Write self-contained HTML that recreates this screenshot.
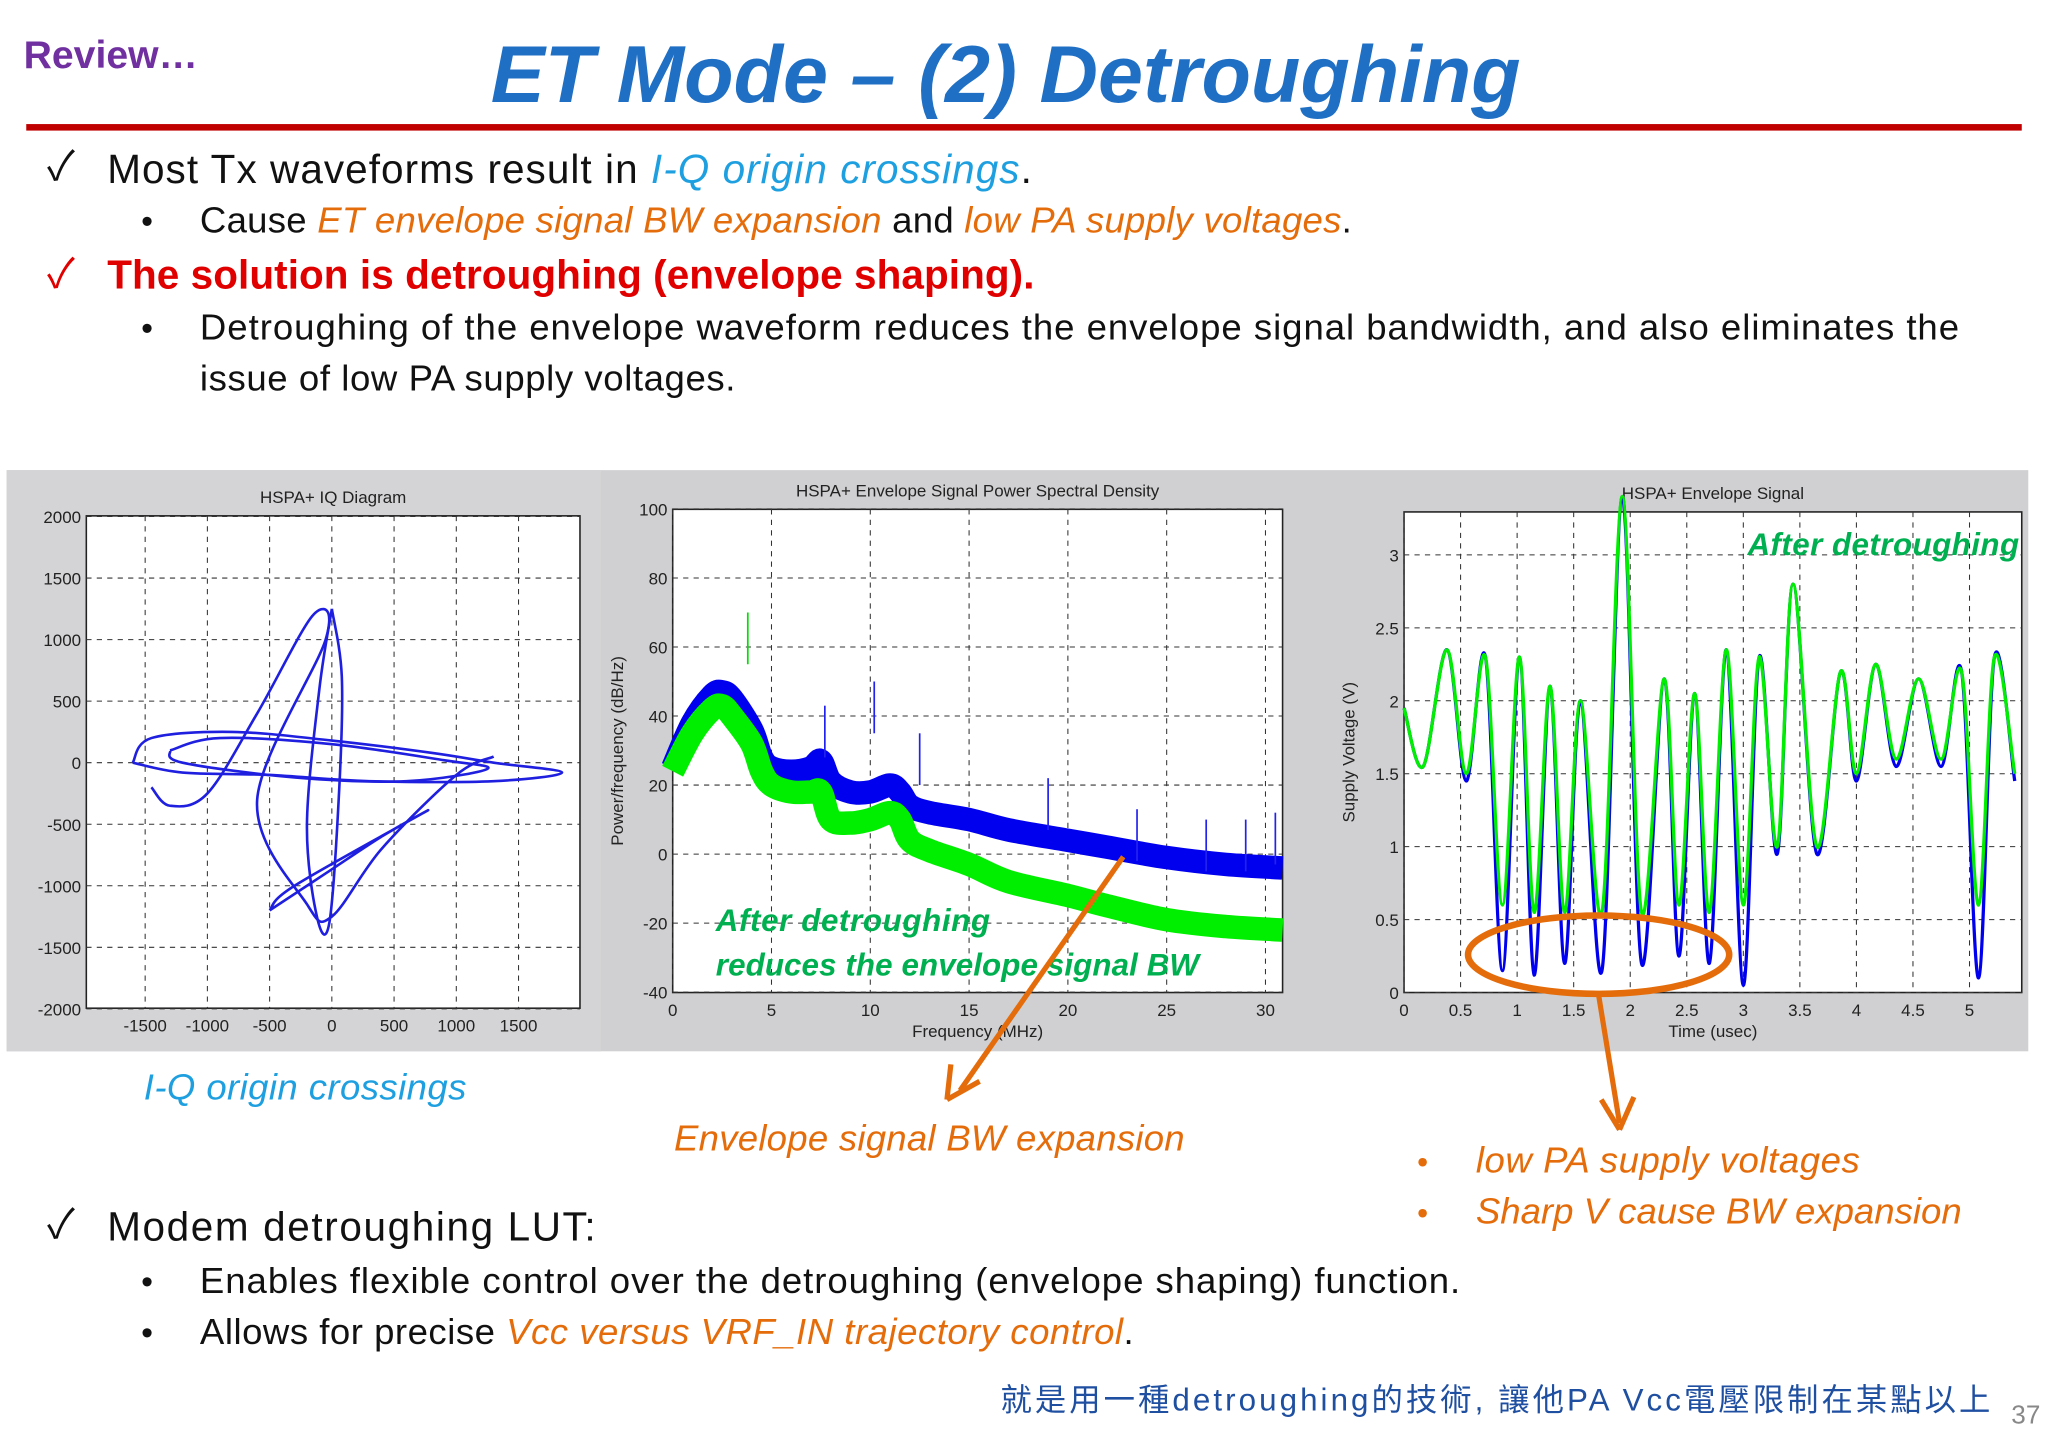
<!DOCTYPE html>
<html><head><meta charset="utf-8"><style>
html,body{margin:0;padding:0;background:#fff;}
svg{display:block;}
text{font-family:"Liberation Sans","Noto Sans CJK TC",sans-serif;}
</style></head><body>
<svg id="page" width="2048" height="1447" viewBox="0 0 1568 1108" xmlns="http://www.w3.org/2000/svg">
<rect width="1568" height="1108" fill="#fff"/>
<text x="18" y="52" font-size="30" font-weight="bold" fill="#7030a0">Review…</text>
<text x="770" y="78" font-size="62" font-weight="bold" font-style="italic" fill="#1f6fc5" text-anchor="middle">ET Mode – (2) Detroughing</text>
<rect x="20" y="95" width="1528" height="5" fill="#c00000"/>
<g font-size="31" fill="#111">
<text x="36" y="138">✓</text>
<text x="82" y="140" textLength="708">Most Tx waveforms result in <tspan fill="#1ea0e0" font-style="italic">I-Q origin crossings</tspan>.</text>
<text x="108" y="178" font-size="26">•</text>
<text x="153" y="178" font-size="28" textLength="882">Cause <tspan fill="#e46c0a" font-style="italic">ET envelope signal BW expansion</tspan> and <tspan fill="#e46c0a" font-style="italic">low PA supply voltages</tspan>.</text>
<text x="36" y="220" fill="#e00000">✓</text>
<text x="82" y="221" fill="#e00000" font-weight="bold" textLength="710">The solution is detroughing (envelope shaping).</text>
<text x="108" y="260" font-size="26">•</text>
<text x="153" y="260" font-size="28" textLength="1347">Detroughing of the envelope waveform reduces the envelope signal bandwidth, and also eliminates the</text>
<text x="153" y="299" font-size="28" textLength="410">issue of low PA supply voltages.</text>
</g>
<rect x="5" y="360" width="1548" height="445" fill="#d0d0d2"/>
<g id="iq"></g>
<g id="psd"></g>
<g id="env"></g>
<g>
<text x="548" y="713" font-size="24" font-weight="bold" font-style="italic" fill="#00b050" textLength="210">After detroughing</text>
<text x="548" y="747" font-size="24" font-weight="bold" font-style="italic" fill="#00b050" textLength="370">reduces the envelope signal BW</text>
<text x="1338" y="425" font-size="24" font-weight="bold" font-style="italic" fill="#00b050" textLength="208">After detroughing</text>
<line x1="860" y1="656" x2="735" y2="835" stroke="#e46c0a" stroke-width="4"/>
<path d="M725 842 L728 815 M725 842 L750 828" stroke="#e46c0a" stroke-width="4" fill="none"/>
<ellipse cx="1224" cy="731" rx="100" ry="30" fill="none" stroke="#e46c0a" stroke-width="5"/>
<line x1="1224" y1="762" x2="1240" y2="860" stroke="#e46c0a" stroke-width="4"/>
<path d="M1240 865 L1226 842 M1240 865 L1251 840" stroke="#e46c0a" stroke-width="4" fill="none"/>
<text x="110" y="842" font-size="28" font-style="italic" fill="#1ea0e0" textLength="247">I-Q origin crossings</text>
<text x="516" y="881" font-size="28" font-style="italic" fill="#e46c0a" textLength="391">Envelope signal BW expansion</text>
<text x="1085" y="898" font-size="24" fill="#e46c0a">•</text>
<text x="1130" y="898" font-size="28" font-style="italic" fill="#e46c0a" textLength="294">low PA supply voltages</text>
<text x="1085" y="937" font-size="24" fill="#e46c0a">•</text>
<text x="1130" y="937" font-size="28" font-style="italic" fill="#e46c0a" textLength="372">Sharp V cause BW expansion</text>
</g>
<g font-size="31" fill="#111">
<text x="36" y="948">✓</text>
<text x="82" y="950" textLength="374">Modem detroughing LUT:</text>
<text x="108" y="990" font-size="26">•</text>
<text x="153" y="990" font-size="28" textLength="965">Enables flexible control over the detroughing (envelope shaping) function.</text>
<text x="108" y="1029" font-size="26">•</text>
<text x="153" y="1029" font-size="28" textLength="715">Allows for precise <tspan fill="#e46c0a" font-style="italic">Vcc versus VRF_IN trajectory control</tspan>.</text>
</g>
<text x="766" y="1080" font-size="24" fill="#1f4fa0" textLength="758" font-family="Liberation Serif, Noto Serif CJK SC, serif">就是用一種detroughing的技術, 讓他PA Vcc電壓限制在某點以上</text>
<text x="1540" y="1090" font-size="20" fill="#888">37</text>
</svg>
<script>
const NS="http://www.w3.org/2000/svg";
// IQ data
const iqTicksX=[-1500,-1000,-500,0,500,1000,1500];
const iqTicksY=[2000,1500,1000,500,0,-500,-1000,-1500,-2000];
const iqPath1=[[-1600,0],[-1450,200],[-800,250],[0,180],[800,80],[1300,0],[1850,-80],[1300,-150],[300,-150],[-500,-100],[-1200,-80],[-1600,0]];
const iqPath2=[[-1300,100],[-900,200],[0,150],[900,20],[1250,-50],[600,-150],[-300,-120],[-1200,0],[-1300,100]];
const iqPath3=[[0,1250],[80,700],[60,-200],[-20,-1300],[-120,-1250],[-200,-500],[-100,600],[0,1250]];
const iqPath4=[[-1450,-200],[-1300,-350],[-1000,-250],[-600,400],[-150,1200],[-50,1000],[-600,-300],[-200,-1150],[0,-1250],[400,-700],[1000,-100],[1300,50]];
const iqPath5=[[-500,-1200],[-50,-900],[400,-600],[750,-400],[-300,-1000],[-500,-1200]];
// PSD data
const psdTicksX=[0,5,10,15,20,25,30];
const psdTicksY=[100,80,60,40,20,0,-20,-40];
const psdFreq=[0,1,2,2.5,3,4,4.5,5,6,7,7.5,8,9,10,11,11.5,12,13,15,17,20,22,25,28,31];
const psdBlue=[25,38,46,47,45,36,28,25,24,25,27,21,18,18,20,18,14,12,10,7,4,2,-1,-3,-4];
const psdGreen=[24,35,42,43,40,32,24,20,18,18,18,10,9,10,12,10,4,1,-3,-8,-12,-15,-19,-21,-22];
const psdSpikesF=[3.8,7.7,10.2,12.5,19,23.5,27,29,30.5];
const psdSpikesV=[70,43,50,35,22,13,10,10,12];
// Envelope data
const envTicksX=[0,0.5,1,1.5,2,2.5,3,3.5,4,4.5,5];
const envTicksY=[0,0.5,1,1.5,2,2.5,3];
const envT=[0,0.17,0.38,0.55,0.72,0.87,1.02,1.15,1.29,1.42,1.56,1.75,1.93,2.1,2.3,2.43,2.57,2.7,2.85,3.0,3.14,3.3,3.44,3.65,3.86,4.0,4.17,4.35,4.55,4.75,4.93,5.08,5.22,5.4];
const envGreen=[1.95,1.55,2.35,1.5,2.3,0.6,2.3,0.55,2.1,0.55,2.0,0.55,3.4,0.55,2.15,0.6,2.05,0.55,2.35,0.6,2.3,1.0,2.8,1.0,2.2,1.5,2.25,1.6,2.15,1.6,2.2,0.6,2.3,1.5];
const envBlue=[1.95,1.55,2.35,1.45,2.3,0.15,2.3,0.12,2.1,0.2,2.0,0.15,3.4,0.2,2.15,0.25,2.05,0.2,2.35,0.05,2.3,0.95,2.8,0.95,2.2,1.45,2.25,1.55,2.15,1.55,2.2,0.1,2.3,1.45];

function el(tag,attrs,parent,txt){const e=document.createElementNS(NS,tag);for(const k in attrs)e.setAttribute(k,attrs[k]);if(txt!==undefined)e.textContent=txt;parent.appendChild(e);return e;}
function axes(g,box,xs,ys,tx,ty,xlab,ylab,title){
  el('rect',{x:box.x0,y:box.y1,width:box.x1-box.x0,height:box.y0-box.y1,fill:'#fff',stroke:'#222','stroke-width':1.2},g);
  tx.forEach(v=>{const x=xs(v);el('line',{x1:x,x2:x,y1:box.y1,y2:box.y0,stroke:'#333','stroke-dasharray':'4 4','stroke-width':0.8},g);
    const t=el('text',{x:x,y:box.y0+18,'font-size':13,'text-anchor':'middle',fill:'#222'},g,String(v));});
  ty.forEach(v=>{const y=ys(v);el('line',{x1:box.x0,x2:box.x1,y1:y,y2:y,stroke:'#333','stroke-dasharray':'4 4','stroke-width':0.8},g);
    const t=el('text',{x:box.x0-4,y:y+5,'font-size':13,'text-anchor':'end',fill:'#222'},g,String(v));});
  const tt=el('text',{x:(box.x0+box.x1)/2,y:box.y1-10,'font-size':13,'text-anchor':'middle',fill:'#222'},g,title);
  
  if(xlab){const t=el('text',{x:(box.x0+box.x1)/2,y:box.y0+34,'font-size':13,'text-anchor':'middle',fill:'#222'},g,xlab);}
  if(ylab){const cx=box.x0-38,cy=(box.y0+box.y1)/2;const t=el('text',{x:cx,y:cy,'font-size':13,'text-anchor':'middle',fill:'#222',transform:`rotate(-90 ${cx} ${cy})`},g,ylab);}
}
function line(g,pts,stroke,w,name,smooth){
  let d;
  if(smooth){d='M'+pts[0].join(',');for(let i=0;i<pts.length-1;i++){const p0=pts[i-1]||pts[i],p1=pts[i],p2=pts[i+1],p3=pts[i+2]||p2;
    const c1=[p1[0]+(p2[0]-p0[0])/6,p1[1]+(p2[1]-p0[1])/6],c2=[p2[0]-(p3[0]-p1[0])/6,p2[1]-(p3[1]-p1[1])/6];
    d+=`C${c1[0]},${c1[1]} ${c2[0]},${c2[1]} ${p2[0]},${p2[1]}`;}}
  else d='M'+pts.map(q=>q.join(',')).join('L');
  const p=el('path',{d:d,fill:'none',stroke:stroke,'stroke-width':w,'stroke-linejoin':'round'},g);return p;}

// IQ chart
(function(){const g=document.getElementById('iq');const b={x0:66,x1:444,y0:772,y1:395};
const xs=v=>254+v*0.0953, ys=v=>584-v*0.09425;
el('rect',{x:5,y:360,width:455,height:445,fill:'#d4d4d6'},g);
axes(g,b,xs,ys,iqTicksX,iqTicksY,null,null,'HSPA+ IQ Diagram');
[iqPath1,iqPath2,iqPath3,iqPath4,iqPath5].forEach((p,i)=>line(g,p.map(q=>[xs(q[0]),ys(q[1])]),'#1f1fe0',2,'iq-trajectory-'+(i+1),true));
})();
// PSD chart
(function(){const g=document.getElementById('psd');const b={x0:515,x1:982,y0:760,y1:390};
const xs=v=>515+v*15.13, ys=v=>654-v*2.643;
axes(g,b,xs,ys,psdTicksX,psdTicksY,'Frequency (MHz)','Power/frequency (dB/Hz)','HSPA+ Envelope Signal Power Spectral Density');
line(g,psdFreq.map((f,i)=>[Math.min(xs(f),982),ys(psdBlue[i])]),'#0000ee',18,'psd-original-series',true);
line(g,psdFreq.map((f,i)=>[Math.min(xs(f),982),ys(psdGreen[i])]),'#00ee00',18,'psd-detroughed-series',true);
psdSpikesF.forEach((f,i)=>{const x=Math.min(xs(f),981);const s=el('line',{x1:x,x2:x,y1:ys(psdSpikesV[i]),y2:ys(psdSpikesV[i]-15),stroke:i==0?'#00dd00':'#2222ee','stroke-width':1.3},g);});
})();
// Envelope chart
(function(){const g=document.getElementById('env');const b={x0:1075,x1:1548,y0:760,y1:392};
const xs=v=>1075+v*86.6, ys=v=>760-v*111.7;
axes(g,b,xs,ys,envTicksX,envTicksY,'Time (usec)','Supply Voltage (V)','HSPA+ Envelope Signal');
line(g,envT.map((t,i)=>[xs(t),ys(envBlue[i])]),'#0000ee',2.5,'envelope-original-series',true);
line(g,envT.map((t,i)=>[xs(t),ys(envGreen[i])]),'#00ee00',2.5,'envelope-detroughed-series',true);
})();
</script>
</body></html>
